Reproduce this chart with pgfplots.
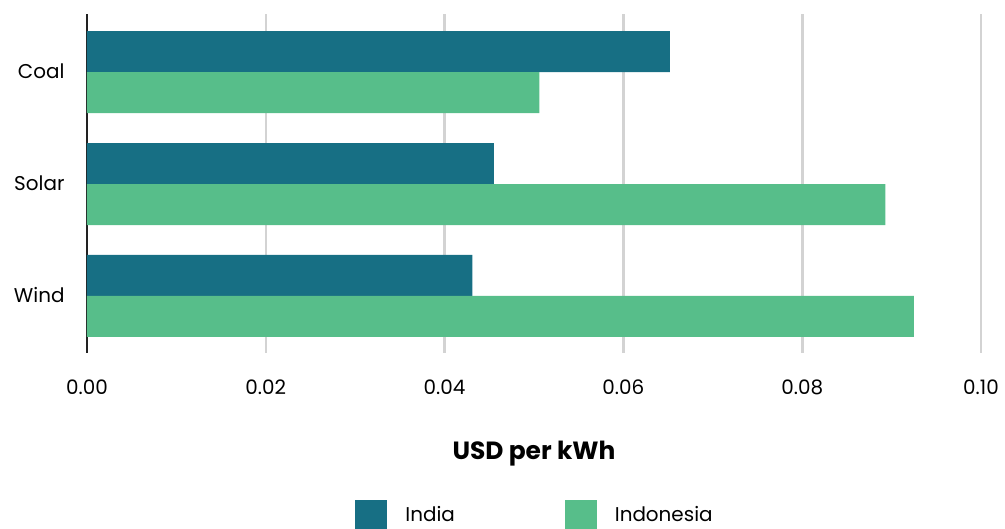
\documentclass[border=0pt]{standalone}
\usepackage{pgfplots}
\pgfplotsset{compat=1.18}
\usepackage{fontspec}
\setmainfont{Poppins}
\definecolor{india}{HTML}{176F84}
\definecolor{indo}{HTML}{57BE8A}
\definecolor{gridc}{HTML}{D3D3D3}
\definecolor{axc}{HTML}{222222}
\begin{document}
\begin{tikzpicture}
\useasboundingbox (-87bp,-176bp) rectangle (918bp,353bp);
\begin{axis}[
  at={(0,0)}, anchor=south west,
  scale only axis, width=894bp, height=339bp,
  xbar, bar width=41bp,
  xmin=0, xmax=0.1,
  ymin=-0.52, ymax=2.51, y dir=reverse,
  ytick={0,1,2}, yticklabels={Coal,Solar,Wind},
  xtick={0,0.02,0.04,0.06,0.08,0.1},
  /pgf/number format/.cd, fixed, fixed zerofill, precision=2, assume math mode=true, /pgfplots/.cd,
  major tick length=0pt,
  axis lines*=left, axis line style={-},
  x axis line style={draw=none},
  y axis line style={draw=axc, line width=2bp},
  xmajorgrids, grid style={draw=gridc, line width=2.6bp},
  tick label style={font=\fontsize{20}{24}\selectfont, text=black},
  yticklabel style={xshift=-19bp, yshift=1bp},
  xticklabel style={yshift=-23bp},
  xlabel={\bfseries USD per kWh},
  xlabel style={font=\fontsize{25}{30}\selectfont, yshift=-40bp},
  legend columns=2,
  legend style={at={(0.5,-0.477)}, anchor=center, draw=none, inner sep=0pt,
    font=\fontsize{20}{24}\selectfont,
    /tikz/every odd column/.append style={column sep=18bp},
    /tikz/every even column/.append style={column sep=110bp},
    nodes={inner sep=0pt}},
  legend image code/.code={\fill[#1] (0bp,-15bp) rectangle (32bp,15bp);},
]
\addplot[fill=india, draw=none, bar shift=20.5bp] coordinates {(0.0652,0) (0.0455,1) (0.0431,2)};
\addplot[fill=indo, draw=none, bar shift=-20.5bp] coordinates {(0.0506,0) (0.0893,1) (0.0925,2)};
\legend{India, Indonesia}
\end{axis}
\end{tikzpicture}
\end{document}
